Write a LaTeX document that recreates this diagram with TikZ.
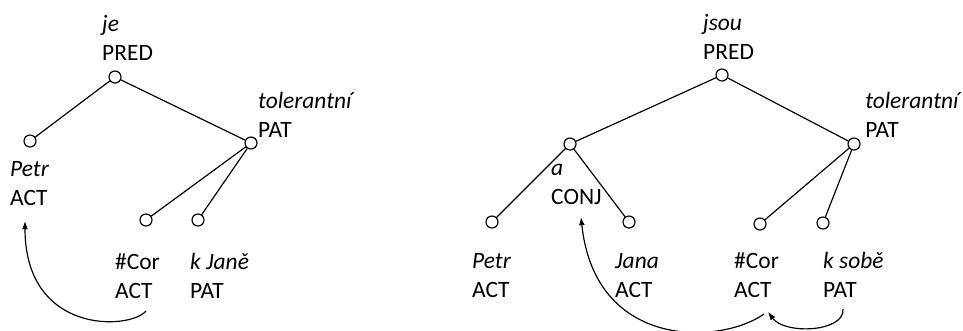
\documentclass[tikz,border=0pt]{standalone}
\usepackage{fontspec}
\setmainfont{Carlito}
\usepackage{tikz}
\usetikzlibrary{arrows.meta}

\begin{document}
\begin{tikzpicture}[x = 0.03cm, y = -0.03cm,
        vtx/.style = {draw, circle, fill = white, line width = 1pt, minimum size = 0.36cm, inner sep = 0pt},
        lbl/.style = {anchor = base west, align = left, inner sep = 0pt, font = \fontsize{20}{24.5}\selectfont},
        edge/.style = {line width = 1pt},
        coref/.style = {line width = 1pt, -{Latex[length = 7pt, width = 5pt]}}]
        \useasboundingbox (0,0) rectangle (963,330);

        \node [vtx] (je) at (115,77) {};
        \node [vtx] (petrL) at (30,141) {};
        \node [vtx] (tolL) at (251,143) {};
        \node [vtx] (corL) at (146,220) {};
        \node [vtx] (jane) at (198,220) {};

        \draw [edge] (je) -- (petrL);
        \draw [edge] (je) -- (tolL);
        \draw [edge] (tolL) -- (corL);
        \draw [edge] (tolL) -- (jane);

        \node [lbl] (jeT) at (102,60) {\textit{je}\\PRED};
        \node [lbl] (petrLT) at (10,205) {\textit{Petr}\\ACT};
        \node [lbl] (tolLT) at (258,137) {\textit{tolerantní}\\PAT};
        \node [lbl] (corLT) at (115,298) {\#Cor\\ACT};
        \node [lbl] (janeT) at (190,298) {\textit{k Janě}\\PAT};

        \coordinate (corLfoot) at (146,311);
        \coordinate (petrLhead) at (25,221);
        \draw [coref] (corLfoot) .. controls (130,330) and (25,335) .. (petrLhead);

        \node [vtx] (jsou) at (722,75) {};
        \node [vtx] (conj) at (570,144) {};
        \node [vtx] (tolR) at (854,144) {};
        \node [vtx] (petrR) at (492,222) {};
        \node [vtx] (jana) at (629,222) {};
        \node [vtx] (corR) at (760,224) {};
        \node [vtx] (sobe) at (823,223) {};

        \draw [edge] (jsou) -- (conj);
        \draw [edge] (jsou) -- (tolR);
        \draw [edge] (conj) -- (petrR);
        \draw [edge] (conj) -- (jana);
        \draw [edge] (tolR) -- (corR);
        \draw [edge] (tolR) -- (sobe);

        \node [lbl] (jsouT) at (703,59) {\textit{jsou}\\PRED};
        \node [lbl] (conjT) at (551,204) {\textit{a}\\CONJ};
        \node [lbl] (tolRT) at (865,137) {\textit{tolerantní}\\PAT};
        \node [lbl] (petrRT) at (472,297) {\textit{Petr}\\ACT};
        \node [lbl] (janaT) at (615,297) {\textit{Jana}\\ACT};
        \node [lbl] (corRT) at (734,297) {\#Cor\\ACT};
        \node [lbl] (sobeT) at (823,297) {\textit{k sobě}\\PAT};

        \coordinate (corRfoot) at (764,314);
        \coordinate (conjhead) at (581,217);
        \coordinate (sobefoot) at (843,309);
        \coordinate (corRhead) at (768,312);
        \draw [coref] (corRfoot) .. controls (720,345) and (595,350) .. (conjhead);
        \draw [coref] (sobefoot) .. controls (845,332) and (785,335) .. (corRhead);
    \end{tikzpicture}
\end{document}
